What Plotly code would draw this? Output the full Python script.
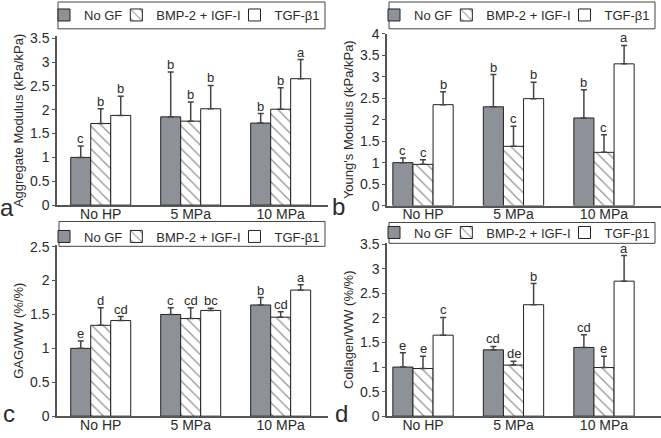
import plotly.graph_objects as go

# data
groups = ["No HP", "5 MPa", "10 MPa"]
series = ["No GF", "BMP-2 + IGF-I", "TGF-β1"]

agg_nogf = [1.00, 1.85, 1.72]
agg_bmp = [1.71, 1.76, 2.01]
agg_tgf = [1.88, 2.02, 2.65]
agg_nogf_sd = [0.24, 0.94, 0.20]
agg_bmp_sd = [0.31, 0.40, 0.45]
agg_tgf_sd = [0.40, 0.49, 0.40]
agg_nogf_lbl = ["c", "b", "b"]
agg_bmp_lbl = ["b", "b", "b"]
agg_tgf_lbl = ["b", "b", "a"]

ym_nogf = [1.00, 2.30, 2.04]
ym_bmp = [0.96, 1.38, 1.24]
ym_tgf = [2.35, 2.49, 3.30]
ym_nogf_sd = [0.11, 0.75, 0.66]
ym_bmp_sd = [0.11, 0.47, 0.41]
ym_tgf_sd = [0.30, 0.38, 0.43]
ym_nogf_lbl = ["c", "b", "b"]
ym_bmp_lbl = ["c", "c", "c"]
ym_tgf_lbl = ["b", "b", "a"]

gag_nogf = [1.00, 1.50, 1.64]
gag_bmp = [1.34, 1.44, 1.46]
gag_tgf = [1.41, 1.56, 1.86]
gag_nogf_sd = [0.11, 0.10, 0.11]
gag_bmp_sd = [0.26, 0.16, 0.08]
gag_tgf_sd = [0.06, 0.03, 0.08]
gag_nogf_lbl = ["e", "c", "b"]
gag_bmp_lbl = ["d", "cd", "cd"]
gag_tgf_lbl = ["cd", "bc", "a"]

col_nogf = [1.00, 1.35, 1.40]
col_bmp = [0.97, 1.04, 0.99]
col_tgf = [1.65, 2.27, 2.75]
col_nogf_sd = [0.29, 0.07, 0.26]
col_bmp_sd = [0.25, 0.08, 0.23]
col_tgf_sd = [0.36, 0.43, 0.52]
col_nogf_lbl = ["e", "cd", "cd"]
col_bmp_lbl = ["e", "de", "e"]
col_tgf_lbl = ["c", "b", "a"]

W, H = 661, 438
FONT = "Liberation Sans, Arial, Helvetica, sans-serif"
INK = "#2b2b2b"
BARGAP = 1 / 3

# pixel layout of each panel: plot area, legend frame, legend anchor, panel tag
panels = [
    dict(tag="a", title="Aggregate Modulus (kPa/kPa)",
         means=[agg_nogf, agg_bmp, agg_tgf], sds=[agg_nogf_sd, agg_bmp_sd, agg_tgf_sd],
         lbls=[agg_nogf_lbl, agg_bmp_lbl, agg_tgf_lbl],
         yr=[0, 3.55], dt=0.5, xpx=(57, 328), ypx=(33, 203.5), xr=[-0.486, 2.526],
         leg=(55, -3), box=(58, -1, 325, 26), letter=(7, 206)),
    dict(tag="b", title="Young's Modulus (kPa/kPa)",
         means=[ym_nogf, ym_bmp, ym_tgf], sds=[ym_nogf_sd, ym_bmp_sd, ym_tgf_sd],
         lbls=[ym_nogf_lbl, ym_bmp_lbl, ym_tgf_lbl],
         yr=[0, 4.0], dt=0.5, xpx=(387, 661), ypx=(31, 204), xr=[-0.398, 2.63],
         leg=(385, -3), box=(389, -1, 655, 26), letter=(338, 205)),
    dict(tag="c", title="GAG/WW (%/%)",
         means=[gag_nogf, gag_bmp, gag_tgf], sds=[gag_nogf_sd, gag_bmp_sd, gag_tgf_sd],
         lbls=[gag_nogf_lbl, gag_bmp_lbl, gag_tgf_lbl],
         yr=[0, 2.52], dt=0.5, xpx=(57, 328), ypx=(244, 416), xr=[-0.486, 2.526],
         leg=(55, 220), box=(59, 220, 325, 245), letter=(9, 413)),
    dict(tag="d", title="Collagen/WW (%/%)",
         means=[col_nogf, col_bmp, col_tgf], sds=[col_nogf_sd, col_bmp_sd, col_tgf_sd],
         lbls=[col_nogf_lbl, col_bmp_lbl, col_tgf_lbl],
         yr=[0, 3.52], dt=0.5, xpx=(387, 661), ypx=(242, 416), xr=[-0.398, 2.63],
         leg=(385, 216), box=(389, 221, 655, 242), letter=(341, 413)),
]

styles = [
    dict(marker=dict(color="#8d9298", line=dict(color="#222", width=1))),
    dict(marker=dict(color="white", line=dict(color="#222", width=1),
                     pattern=dict(shape="\\", fgcolor="#222", bgcolor="white",
                                  size=8, solidity=0.15))),
    dict(marker=dict(color="white", line=dict(color="#222", width=1))),
]

fig = go.Figure()
annotations = []
shapes = []
layout = {}

for p_i, p in enumerate(panels):
    n = "" if p_i == 0 else str(p_i + 1)
    xa, ya = "x" + n, "y" + n
    leg = "legend" + n
    for k in range(3):
        fig.add_trace(go.Bar(
            x=groups, y=p["means"][k], name=series[k],
            xaxis=xa, yaxis=ya, legend=leg,
            error_y=dict(type="data", symmetric=False, array=p["sds"][k],
                         arrayminus=[0] * 3, color="#444", thickness=1.5, width=3),
            **styles[k],
        ))
        # significance letters above each error bar
        off = (k - 1) * (1 - BARGAP) / 3
        for g in range(3):
            annotations.append(dict(
                x=g + off, y=p["means"][k][g] + p["sds"][k][g], xref=xa, yref=ya,
                text=p["lbls"][k][g], showarrow=False, yanchor="bottom", yshift=-2,
                font=dict(size=13, color=INK, family=FONT)))
    x0, x1 = p["xpx"]
    y0, y1 = p["ypx"]
    layout["xaxis" + n] = dict(
        domain=[x0 / W, x1 / W], anchor=ya, range=p["xr"], type="category",
        showline=True, linecolor="#555", linewidth=1.5, ticks="", ticklabelstandoff=-5,
        tickfont=dict(size=14, color=INK, family=FONT), automargin=False)
    layout["yaxis" + n] = dict(
        domain=[1 - y1 / H, 1 - y0 / H], anchor=xa, range=p["yr"], dtick=p["dt"],
        showline=True, linecolor="#555", linewidth=1.5, ticks="outside", ticklen=3,
        tickcolor="#555", showgrid=False, zeroline=False,
        tickfont=dict(size=14, color=INK, family=FONT), automargin=False,
        title=dict(text=p["title"], standoff=3, font=dict(size=13, color=INK, family=FONT)))
    lx, ly = p["leg"]
    layout[leg] = dict(
        x=lx / W, y=1 - ly / H, xanchor="left", yanchor="top", orientation="h",
        bgcolor="rgba(0,0,0,0)", borderwidth=0, indentation=-11,
        font=dict(size=13, color=INK, family=FONT), itemclick=False)
    bx0, by0, bx1, by1 = p["box"]
    shapes.append(dict(
        type="rect", xref="paper", yref="paper", layer="above",
        x0=bx0 / W, x1=bx1 / W, y0=1 - by1 / H, y1=1 - by0 / H,
        fillcolor="white", line=dict(color="#444", width=1)))
    px_, py_ = p["letter"]
    annotations.append(dict(
        x=px_ / W, y=1 - py_ / H, xref="paper", yref="paper", text=p["tag"],
        showarrow=False, xanchor="center", yanchor="middle",
        font=dict(size=24, color=INK, family=FONT)))

fig.update_layout(
    width=W, height=H, margin=dict(l=0, r=0, t=0, b=0),
    paper_bgcolor="white", plot_bgcolor="white",
    barmode="group", bargap=BARGAP, bargroupgap=0,
    annotations=annotations, shapes=shapes, showlegend=True,
    **layout,
)

fig.write_html("out.html", config={"displayModeBar": False},
               post_script="document.body.style.margin='0';")
